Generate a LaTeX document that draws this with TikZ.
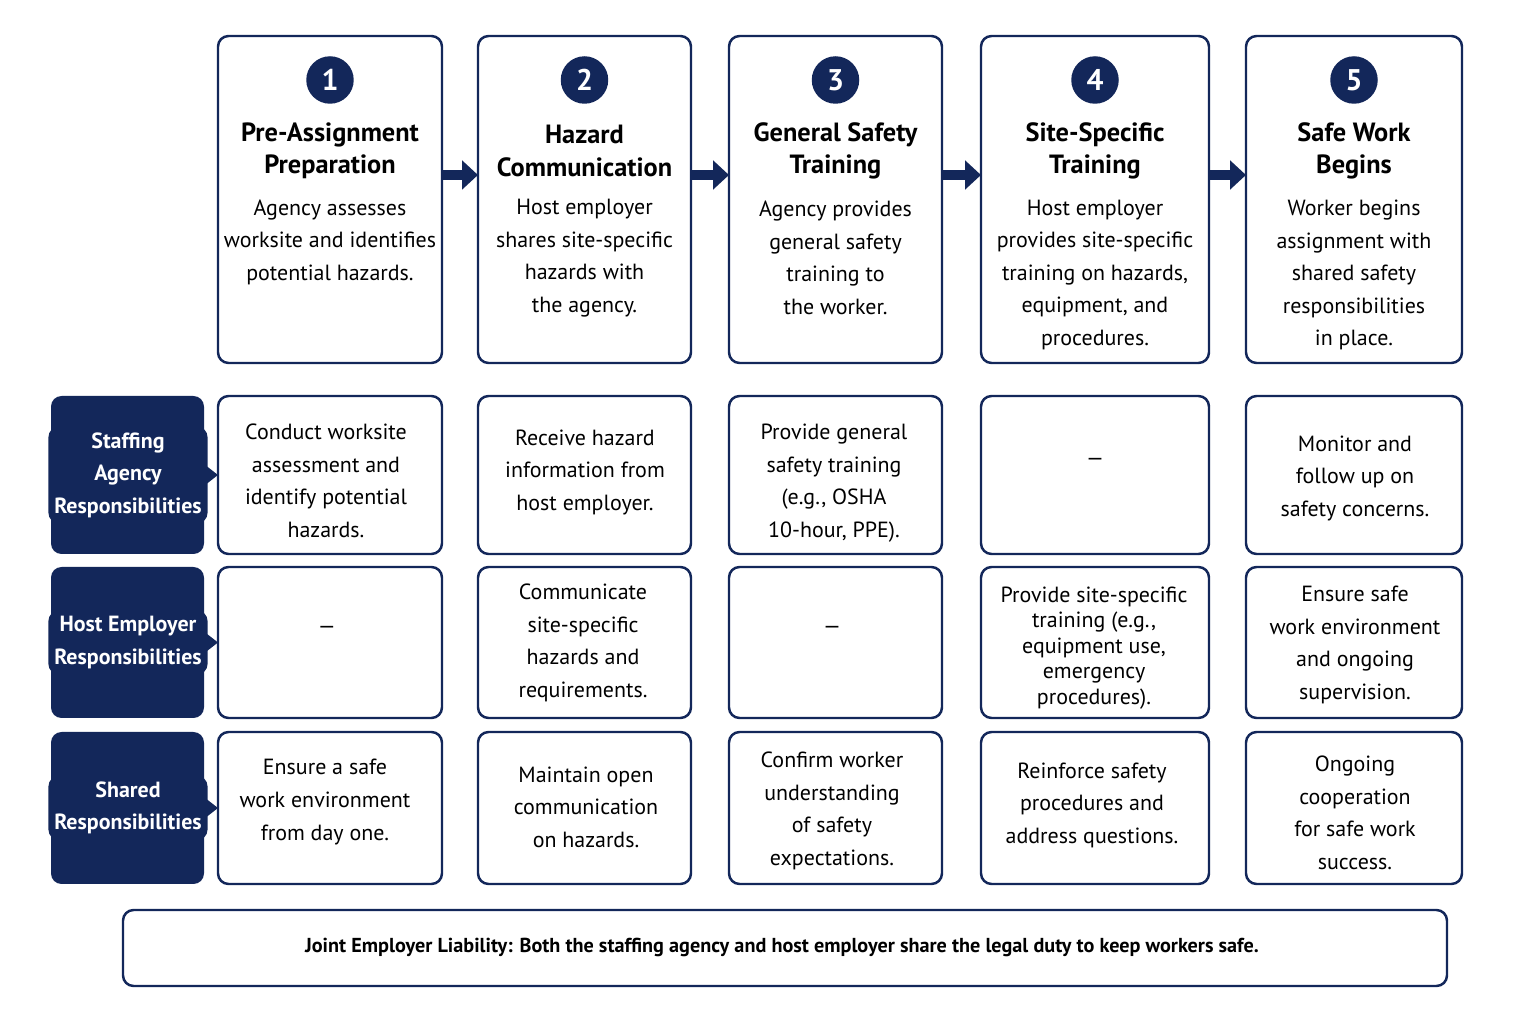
\documentclass[tikz,border=0pt]{standalone}
\usepackage{fontspec}
\setmainfont{PT Sans}
\usetikzlibrary{shapes.geometric,arrows.meta}
\definecolor{navy}{HTML}{13275A}
\begin{document}
\begin{tikzpicture}[x=0.02cm,y=-0.02cm,
  box/.style={draw=navy,line width=1.4pt,rounded corners=6pt,fill=white},
  txt/.style={align=center,font=\fontsize{12.5}{18.5}\selectfont,text=black},
  ttl/.style={align=center,font=\bfseries\fontsize{15}{18.5}\selectfont,text=black},
  num/.style={circle,fill=navy,text=white,minimum size=0.95cm,inner sep=0pt,font=\bfseries\fontsize{17}{17}\selectfont},
  lab/.style={fill=navy,rounded corners=6pt,text=white,align=center,font=\bfseries\fontsize{12.5}{18.5}\selectfont},
  flow/.style={-{Triangle[length=9pt,width=16pt]},line width=6pt,draw=navy}]
\useasboundingbox (0,0) rectangle (1516,1023);
% top step boxes
\def\steps{218/442/1/{Pre-Assignment\\Preparation}/{Agency assesses\\worksite and identifies\\potential hazards.}/242,
478/691/2/{Hazard\\Communication}/{Host employer\\shares site-specific\\hazards with\\the agency.}/258,
729/942/3/{General Safety\\Training}/{Agency provides\\general safety\\training to\\the worker.}/258,
981/1209/4/{Site-Specific\\Training}/{Host employer\\provides site-specific\\training on hazards,\\equipment, and\\procedures.}/275,
1246/1462/5/{Safe Work\\Begins}/{Worker begins\\assignment with\\shared safety\\responsibilities\\in place.}/275}
\foreach \a/\b/\n/\t/\d/\yy in \steps {
  \draw[box] (\a,36) rectangle (\b,363);
  \node[num] (n\n) at ({(\a+\b)/2},80) {\n};
  \node[ttl] (t\n) at ({(\a+\b)/2},151) {\t};
  \node[txt] (d\n) at ({(\a+\b)/2},\yy) {\d};
}
\coordinate (s1) at (442,175); \coordinate (e1) at (478,175);
\coordinate (s2) at (691,175); \coordinate (e2) at (729,175);
\coordinate (s3) at (942,175); \coordinate (e3) at (981,175);
\coordinate (s4) at (1209,175); \coordinate (e4) at (1246,175);
\foreach \i in {1,...,4} \draw[flow] (s\i) -- (e\i);
% row labels
\foreach \y/\h/\t/\k in {396/554/{Staffing\\Agency\\Responsibilities}/ra,567/718/{Host Employer\\Responsibilities}/rb,732/884/{Shared\\Responsibilities}/rc}{
  \fill[navy,rounded corners=6pt] (51,\y) rectangle (204,\h);
  \fill[navy] (200,{(\y+\h)/2-14}) -- (218,{(\y+\h)/2}) -- (200,{(\y+\h)/2+14}) -- cycle;
  \node[lab] (\k) at (128,{(\y+\h)/2}) {\t};
}
% grid cells
\def\cols{1/218/442,2/478/691,3/729/942,4/981/1209,5/1246/1462}
\foreach \c/\a/\b in \cols {
  \draw[box] (\a,396) rectangle (\b,554);
  \draw[box] (\a,567) rectangle (\b,718);
  \draw[box] (\a,732) rectangle (\b,884);
}
\node[txt] (a1) at (326,481) {Conduct worksite\\assessment and\\identify potential\\hazards.};
\node[txt] (a2) at (585,472) {Receive hazard\\information from\\host employer.};
\node[txt] (a3) at (834,483) {Provide general\\safety training\\(e.g., OSHA\\10-hour, PPE).};
\node[txt] (a4) at (1095,462) {—};
\node[txt] (a5) at (1355,478) {Monitor and\\follow up on\\safety concerns.};
\node[txt] (b1) at (327,630) {—};
\node[txt] (b2) at (583,643) {Communicate\\site-specific\\hazards and\\requirements.};
\node[txt] (b3) at (832,630) {—};
\node[txt,font=\fontsize{12.5}{14.5}\selectfont] (b4) at (1094,648) {Provide site-specific\\training (e.g.,\\equipment use,\\emergency\\procedures).};
\node[txt] (b5) at (1355,645) {Ensure safe\\work environment\\and ongoing\\supervision.};
\node[txt] (c1) at (325,802) {Ensure a safe\\work environment\\from day one.};
\node[txt] (c2) at (586,807) {Maintain open\\communication\\on hazards.};
\node[txt] (c3) at (832,811) {Confirm worker\\understanding\\of safety\\expectations.};
\node[txt] (c4) at (1092,805) {Reinforce safety\\procedures and\\address questions.};
\node[txt] (c5) at (1355,813) {Ongoing\\cooperation\\for safe work\\success.};
% bottom
\draw[box] (123,910) rectangle (1447,986);
\node[font=\bfseries\fontsize{11.5}{14}\selectfont] (foot) at (782,947) {Joint Employer Liability: Both the staffing agency and host employer share the legal duty to keep workers safe.};
\end{tikzpicture}
\end{document}
